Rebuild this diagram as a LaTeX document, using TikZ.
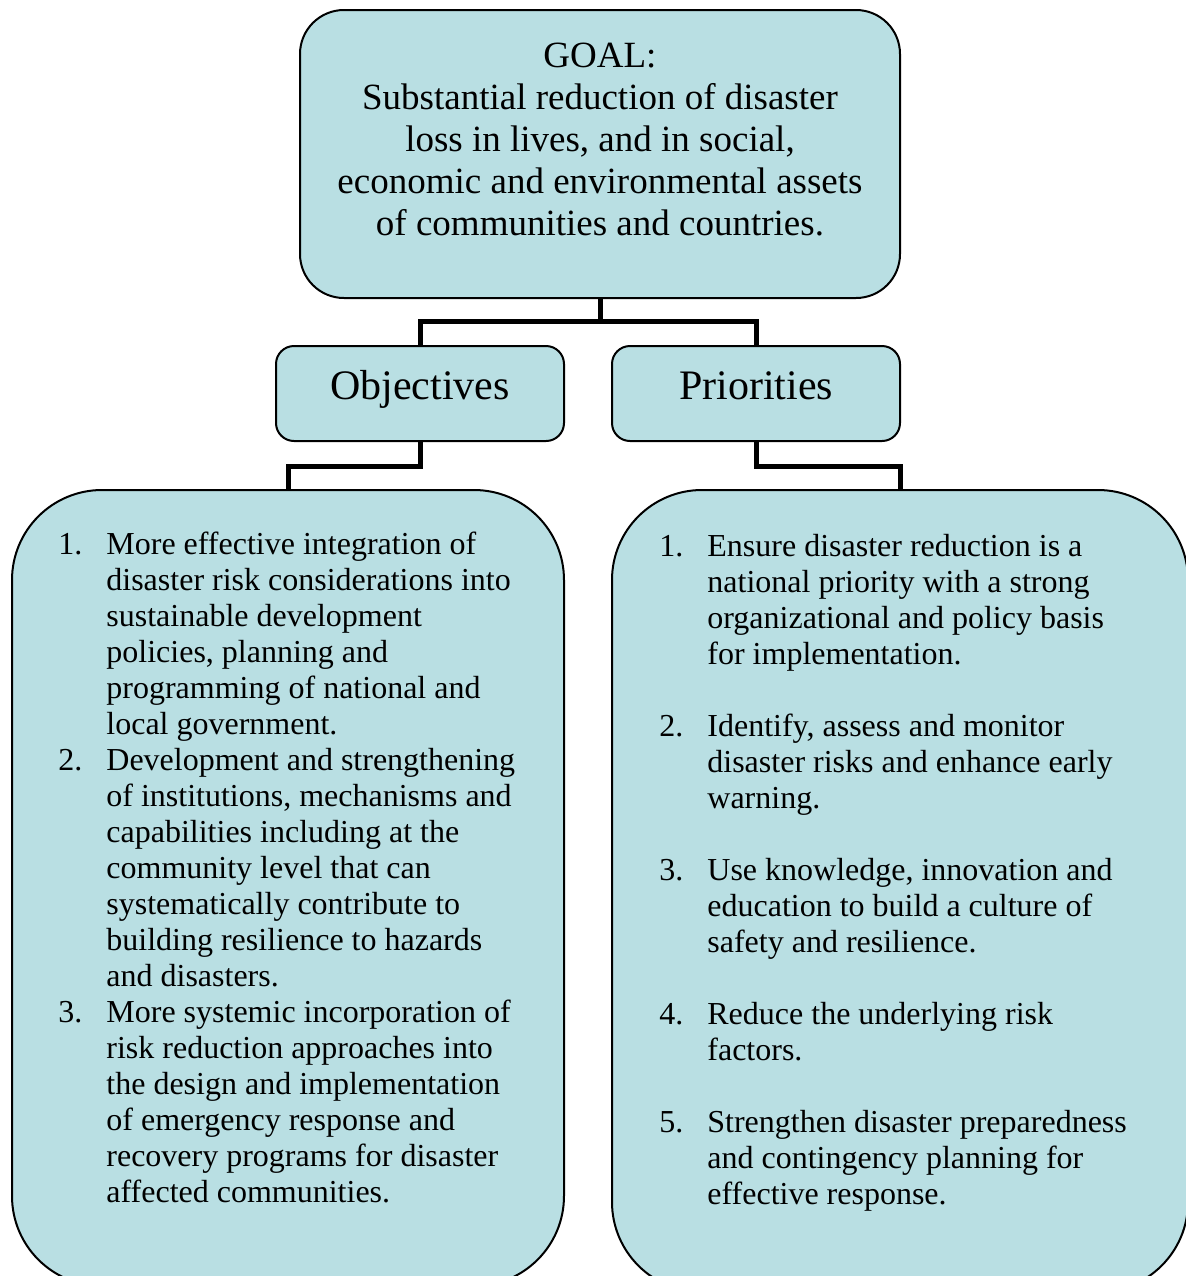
\documentclass[tikz,border=0pt]{standalone}
\usepackage{fontspec}
\setmainfont{Liberation Serif}
\usepackage{xcolor}
\usetikzlibrary{positioning}
\definecolor{boxfill}{RGB}{185,223,227}

\begin{document}
\begin{tikzpicture}[x=0.5pt, y=-0.5pt,
    panel/.style={rectangle, draw, line width=1pt, fill=boxfill, inner sep=0pt},
    link/.style={line width=2.5pt},
    goalfont/.style={inner sep=0pt, anchor=base, font=\fontsize{18.5}{21}\selectfont},
    headtext/.style={inner sep=0pt, anchor=base, font=\fontsize{21}{24}\selectfont},
    listtext/.style={inner sep=0pt, anchor=base west, font=\fontsize{16}{18}\selectfont}]
    \useasboundingbox (0,0) rectangle (1186,1276);
    \clip (0,0) rectangle (1186,1276);

    % boxes
    \node (goal) [panel, minimum width=300pt, minimum height=144pt, rounded corners=22pt] at (600,154) {};
    \node (objhead) [panel, minimum width=144pt, minimum height=47.5pt, rounded corners=9pt] at (420,393.5) {};
    \node (prihead) [panel, minimum width=144pt, minimum height=47.5pt, rounded corners=9pt] at (756,393.5) {};
    \node (objlist) [panel, minimum width=276pt, minimum height=398pt, rounded corners=45pt] at (288,888) {};
    \node (prilist) [panel, minimum width=288pt, minimum height=401pt, rounded corners=45pt] at (900,891) {};

    % connectors
    \coordinate (goaljoint) at (600,321);
    \draw [link] (goal.south) -- (goaljoint);
    \draw [link] (objhead.north) |- (goaljoint) -| (prihead.north);
    \draw [link] (objhead.south) -- ++(0,24) -| (objlist.north);
    \draw [link] (prihead.south) -- ++(0,24) -| (prilist.north);

    % texts
    \node (goaltext) [goalfont] at (600,67)
        {\begin{tabular}[t]{@{}c@{}}GOAL:\\Substantial reduction of disaster\\loss in lives, and in social,\\economic and environmental assets\\of communities and countries.\end{tabular}};
    \node (objtext) [headtext] at (420,399) {Objectives};
    \node (pritext) [headtext] at (756,399) {Priorities};

    \node (objitems) [listtext] at (58,554)
        {\begin{tabular}[t]{@{}p{24pt}@{}l@{}}
        1. & More effective integration of\\
           & disaster risk considerations into\\
           & sustainable development\\
           & policies, planning and\\
           & programming of national and\\
           & local government.\\
        2. & Development and strengthening\\
           & of institutions, mechanisms and\\
           & capabilities including at the\\
           & community level that can\\
           & systematically contribute to\\
           & building resilience to hazards\\
           & and disasters.\\
        3. & More systemic incorporation of\\
           & risk reduction approaches into\\
           & the design and implementation\\
           & of emergency response and\\
           & recovery programs for disaster\\
           & affected communities.
        \end{tabular}};

    \node (priitems) [listtext] at (659,556)
        {\begin{tabular}[t]{@{}p{24pt}@{}l@{}}
        1. & Ensure disaster reduction is a\\
           & national priority with a strong\\
           & organizational and policy basis\\
           & for implementation.\\
           & \\
        2. & Identify, assess and monitor\\
           & disaster risks and enhance early\\
           & warning.\\
           & \\
        3. & Use knowledge, innovation and\\
           & education to build a culture of\\
           & safety and resilience.\\
           & \\
        4. & Reduce the underlying risk\\
           & factors.\\
           & \\
        5. & Strengthen disaster preparedness\\
           & and contingency planning for\\
           & effective response.
        \end{tabular}};
\end{tikzpicture}
\end{document}
